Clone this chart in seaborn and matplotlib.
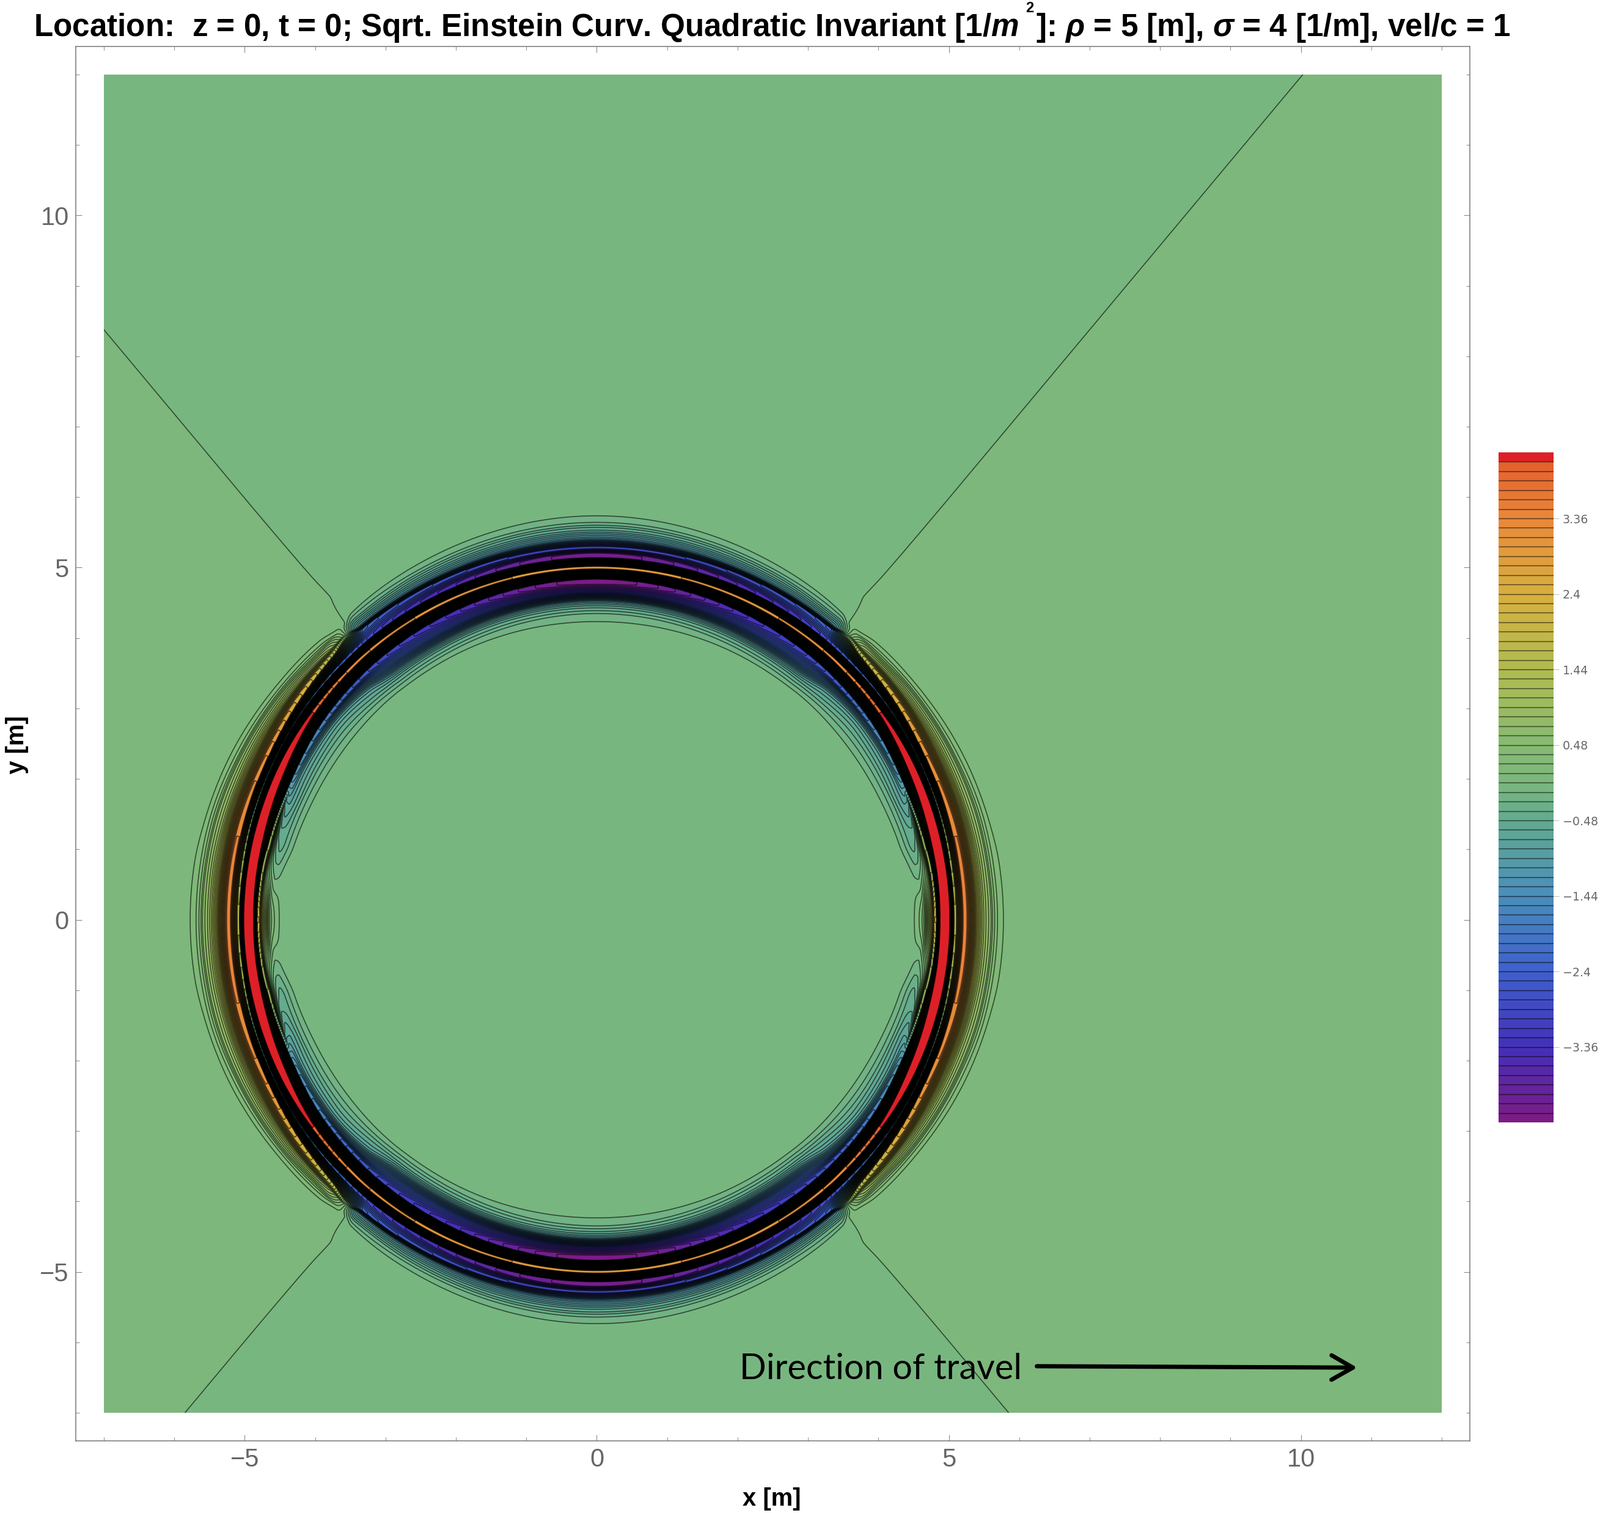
# Sqrt. Einstein curvature invariant around the warp bubble, x-y slice
import numpy as np
import matplotlib
matplotlib.use("Agg")
import matplotlib.pyplot as plt
import seaborn as sns
from matplotlib.colors import ListedColormap, to_rgb
from matplotlib.patches import Rectangle

# ── Values ───────────────────────────────────────────────
# Angle of each knot from the x axis (deg); the field mirrors across both axes
theta_knots = [0, 8, 14, 24, 36, 45, 48.5, 51, 62, 90]

# Radius [m] and value of each feature, going outwards, one entry per angle knot
r_center = [0] * 10
z_center = [-0.03] * 10
r_base = [4.40, 4.35, 4.25, 4.20, 4.15, 4.12, 4.10, 4.08, 4.05, 4.00]
z_base = [-0.03] * 10
r_in1 = [4.51, 4.47, 4.43, 4.37, 4.33, 4.31, 4.30, 4.29, 4.27, 4.24]
z_in1 = [0.0, -0.06, -0.125, -0.125, -0.125, -0.125, -0.125, -0.125, -0.125, -0.125]
r_in2 = [4.58, 4.55, 4.50, 4.45, 4.42, 4.38, 4.36, 4.35, 4.34, 4.35]
z_in2 = [0.125, -0.13, -0.245, -0.245, -0.245, -0.245, -0.245, -0.245, -0.245, -0.245]
r_in3 = [4.62, 4.60, 4.56, 4.51, 4.49, 4.43, 4.41, 4.395, 4.385, 4.39]
z_in3 = [0.245, -0.16, -0.365, -0.365, -0.365, -0.365, -0.365, -0.365, -0.365, -0.365]
r_in4 = [4.65, 4.63, 4.60, 4.55, 4.55, 4.48, 4.45, 4.44, 4.43, 4.43]
z_in4 = [0.4, -0.12, -0.42, -0.485, -0.485, -0.485, -0.485, -0.485, -0.485, -0.485]
r_in5 = [4.70, 4.68, 4.66, 4.67, 4.66, 4.60, 4.55, 4.53, 4.51, 4.52]
z_in5 = [0.9, 0.05, -0.35, -0.8, -0.8, -0.8, -0.85, -0.9, -0.95, -0.95]
r_in6 = [4.76, 4.74, 4.71, 4.715, 4.72, 4.70, 4.68, 4.67, 4.65, 4.66]
z_in6 = [1.5, 0.4, 0.1, -1.0, -1.3, -1.6, -1.9, -2.1, -2.5, -3.2]
r_stripe_in_a = [4.80, 4.79, 4.76, 4.745, 4.77, 4.78, 4.785, 4.785, 4.785, 4.785]
r_stripe_in_b = [4.82, 4.81, 4.78, 4.765, 4.80, 4.81, 4.815, 4.815, 4.82, 4.83]
z_stripe_in = [2.05, 1.2, 1.0, -1.05, -1.78, -2.5, -2.7, -2.85, -3.3, -4.3]
r_stripe_mid_a = [4.90, 4.90, 4.905, 4.93, 4.97, 4.98, 4.985, 4.985, 4.985, 4.985]
r_stripe_mid_b = [4.99, 4.99, 4.99, 4.995, 5.005, 5.01, 5.015, 5.015, 5.015, 5.015]
z_stripe_mid = [4.5, 4.5, 4.5, 4.6, 4.09, 3.35, 3.3, 3.2, 3.1, 2.95]
r_stripe_min_a = [5.08, 5.08, 5.09, 5.10, 5.12, 5.125, 5.13, 5.135, 5.14, 5.145]
r_stripe_min_b = [5.10, 5.10, 5.105, 5.11, 5.13, 5.145, 5.155, 5.16, 5.17, 5.195]
z_stripe_min = [1.6, 1.3, 0.8, -0.8, -1.6, -2.2, -2.5, -2.8, -3.4, -4.15]
r_stripe_out_a = [5.21, 5.21, 5.21, 5.21, 5.25, 5.30, 5.36, 5.28, 5.28, 5.27]
r_stripe_out_b = [5.25, 5.25, 5.25, 5.245, 5.29, 5.33, 5.38, 5.30, 5.30, 5.29]
z_stripe_out = [3.4, 3.4, 3.35, 3.2, 2.5, 1.5, 0.3, -2.2, -2.6, -3.0]
r_out1 = [5.40, 5.40, 5.40, 5.39, 5.40, 5.39, 5.41, 5.36, 5.37, 5.40]
z_out1 = [1.6, 1.6, 1.6, 1.5, 1.2, 0.9, 0.17, -1.0, -1.15, -1.3]
r_mid = [5.50, 5.50, 5.49, 5.47, 5.46, 5.43, 5.44, 5.40, 5.42, 5.47]
z_mid = [0.95, 0.95, 0.95, 0.95, 0.85, 0.75, 0.15, -0.8, -0.85, -0.9]
r_out2 = [5.60, 5.595, 5.59, 5.56, 5.51, 5.46, 5.46, 5.44, 5.47, 5.53]
z_out2 = [0.605, 0.605, 0.605, 0.605, 0.605, 0.605, 0.14, -0.605, -0.605, -0.605]
r_out3 = [5.62, 5.615, 5.61, 5.58, 5.53, 5.48, 5.48, 5.465, 5.50, 5.57]
z_out3 = [0.485, 0.485, 0.485, 0.485, 0.485, 0.485, 0.135, -0.485, -0.485, -0.485]
r_out4 = [5.65, 5.645, 5.64, 5.60, 5.55, 5.50, 5.49, 5.49, 5.53, 5.60]
z_out4 = [0.365, 0.365, 0.365, 0.365, 0.365, 0.365, 0.13, -0.365, -0.365, -0.365]
r_out5 = [5.69, 5.685, 5.68, 5.64, 5.58, 5.53, 5.50, 5.53, 5.57, 5.64]
z_out5 = [0.245, 0.245, 0.245, 0.245, 0.245, 0.245, 0.125, -0.245, -0.245, -0.245]
r_out6 = [5.77, 5.765, 5.74, 5.70, 5.63, 5.58, 5.53, 5.57, 5.64, 5.73]
z_out6 = [0.125, 0.125, 0.125, 0.125, 0.125, 0.125, 0.115, -0.125, -0.125, -0.125]
r_far0 = [5.95] * 10
z_far0 = [0.04] * 7 + [-0.007] * 3
r_far1 = [6.4] * 10
z_far1 = [0.04] * 7 + [-0.0126] * 3
r_far2 = [8.0] * 10
z_far2 = [0.04] * 7 + [-0.017] * 3
r_far3 = [14.0] * 10
z_far3 = [0.04] * 7 + [-0.017] * 3
r_far4 = [24.0] * 10
z_far4 = [0.04] * 7 + [-0.017] * 3

# Colour scale
scale_values = [-4.26, -3.36, -2.4, -1.44, -0.48, -0.06, 0.06, 0.48, 1.44, 2.4, 3.36, 4.02, 4.14]
scale_colors = ["#7A1C86", "#4330B8", "#3E60CC", "#4A8DBB", "#62A98F", "#78B680", "#7DB77B",
                "#85BA72", "#B0BB50", "#D7AF3F", "#E8893A", "#E4622E", "#DD2028"]
cbar_ticks = [3.36, 2.4, 1.44, 0.48, -0.48, -1.44, -2.4, -3.36]
cbar_labels = ["3.36", "2.4", "1.44", "0.48", "\u22120.48", "\u22121.44", "\u22122.4", "\u22123.36"]
axis_ticks = [-5, 0, 5, 10]
axis_labels = ["\u22125", "0", "5", "10"]

radius_cols = [r_center, r_base, r_in1, r_in2, r_in3, r_in4, r_in5, r_in6,
               r_stripe_in_a, r_stripe_in_b, r_stripe_mid_a, r_stripe_mid_b,
               r_stripe_min_a, r_stripe_min_b, r_stripe_out_a, r_stripe_out_b,
               r_out1, r_mid, r_out2, r_out3, r_out4, r_out5, r_out6,
               r_far0, r_far1, r_far2, r_far3, r_far4]
value_cols = [z_center, z_base, z_in1, z_in2, z_in3, z_in4, z_in5, z_in6,
              z_stripe_in, z_stripe_in, z_stripe_mid, z_stripe_mid,
              z_stripe_min, z_stripe_min, z_stripe_out, z_stripe_out,
              z_out1, z_mid, z_out2, z_out3, z_out4, z_out5, z_out6,
              z_far0, z_far1, z_far2, z_far3, z_far4]

# ── Render grid through the knots ────────────────────────
STEP = 0.12
BLACK = "#000000"
GRAY = "#666666"
theta = np.radians(np.linspace(0, 360, 1801))
fold = np.degrees(np.arcsin(np.abs(np.sin(theta))))
kernel = np.ones(5) / 5


def monotone_curve(x, y, xi):
    # shape-preserving cubic, flat at both ends since the field mirrors there
    x = np.asarray(x, float)
    y = np.asarray(y, float)
    h = np.diff(x)
    s = np.diff(y) / h
    d = np.zeros_like(y)
    for i in range(1, len(x) - 1):
        if s[i - 1] * s[i] > 0:
            w1 = 2 * h[i] + h[i - 1]
            w2 = h[i] + 2 * h[i - 1]
            d[i] = (w1 + w2) / (w1 / s[i - 1] + w2 / s[i])
    i = np.clip(np.searchsorted(x, xi, side="right") - 1, 0, len(h) - 1)
    t = (xi - x[i]) / h[i]
    return ((2 * t**3 - 3 * t**2 + 1) * y[i] + (t**3 - 2 * t**2 + t) * h[i] * d[i]
            + (3 * t**2 - 2 * t**3) * y[i + 1] + (t**3 - t**2) * h[i] * d[i + 1])


def spread(cols):
    out = []
    for col in cols:
        row = monotone_curve(theta_knots, col, fold)
        wrapped = np.r_[row[-6:-1], row, row[1:6]]
        out.append(np.convolve(wrapped, kernel, "same")[5:-5])
    out = np.array(out)
    idx = np.linspace(0, len(cols) - 1, (len(cols) - 1) * 12 + 1)
    pos = np.arange(len(cols))
    return np.array([monotone_curve(pos, out[:, i], idx) for i in range(out.shape[1])])


R = spread(radius_cols)
Z = spread(value_cols)
X = R * np.cos(theta)[:, None]
Y = R * np.sin(theta)[:, None]

# ── Bands and contour levels ─────────────────────────────
edges = np.arange(-36, 35) * STEP
fill_levels = np.r_[edges, 99.0]
mids = (np.arange(-36, 35) + 0.5) * STEP
rgb = np.array([to_rgb(c) for c in scale_colors])
band_colors = np.column_stack([np.interp(mids, scale_values, rgb[:, i]) for i in range(3)])

# ── Figure ───────────────────────────────────────────────
sns.set_theme(style="ticks")
plt.rcParams["font.family"] = ["Liberation Sans", "DejaVu Sans"]
plt.rcParams["mathtext.fontset"] = "custom"
plt.rcParams["mathtext.rm"] = "Liberation Sans:bold"
plt.rcParams["mathtext.it"] = "Liberation Sans:italic:bold"
plt.rcParams["mathtext.bf"] = "Liberation Sans:bold"

fig = plt.figure(figsize=(26.18, 24.75), dpi=100)
ax = fig.add_axes([124 / 2618, 1 - 2357 / 2475, 2281 / 2618, 2281 / 2475])

clip = Rectangle((-7, -7), 19, 19, transform=ax.transData)
filled = ax.contourf(X, Y, Z, levels=fill_levels, colors=[tuple(c) for c in band_colors])
filled.set_clip_path(clip)
lines = ax.contour(X, Y, Z, levels=edges, colors=BLACK, linewidths=1.15, alpha=0.62,
                   linestyles="solid")
lines.set_clip_path(clip)

ax.set_xlim(-7.4, 12.4)
ax.set_ylim(-7.4, 12.4)
ax.set_xticks(axis_ticks, axis_labels)
ax.set_yticks(axis_ticks, axis_labels)
ax.set_xticks(np.arange(-7, 13), minor=True)
ax.set_yticks(np.arange(-7, 13), minor=True)
ax.tick_params(which="major", direction="in", length=7, width=0.8, color="#888888",
               labelcolor=GRAY, labelsize=30, top=True, right=True, pad=8)
ax.tick_params(which="minor", direction="in", length=4, width=0.7, color="#888888",
               top=True, right=True)
for spine in ax.spines.values():
    spine.set_color("#777777")
    spine.set_linewidth(1.1)

fig.text(1263 / 2618, 1 - 2452 / 2475, "x [m]", fontsize=28.8, fontweight="bold",
         color=BLACK, ha="center", va="center")
fig.text(28 / 2618, 1 - 1218 / 2475, "y [m]", fontsize=28.8, fontweight="bold",
         color=BLACK, ha="center", va="center", rotation=90)

title = (r"Location:  z = 0, t = 0; Sqrt. Einstein Curv. Quadratic Invariant [1/$m$  ]: "
         r"$\rho$ = 5 [m], $\sigma$ = 4 [1/m], vel/c = 1")
fig.text(1263 / 2618, 1 - 46 / 2475, title, fontsize=36.9, fontweight="bold",
         color=BLACK, ha="center", va="center")
fig.text(1685 / 2618, 1 - 13 / 2475, "2", fontsize=17, fontweight="bold",
         color=BLACK, ha="center", va="center")

ax.text(2.03, -6.38, "Direction of travel", fontsize=41.5, family="Lato", color=BLACK,
        ha="left", va="center")
ax.annotate("", xy=(10.8, -6.36), xytext=(6.25, -6.34),
            arrowprops=dict(arrowstyle="->,head_length=0.7,head_width=0.4", lw=5,
                            color=BLACK, shrinkA=0, shrinkB=0, mutation_scale=36))

# Colour bar legend
cax = fig.add_axes([2452 / 2618, 1 - 1836 / 2475, 90 / 2618, 1096 / 2475])
sns.heatmap(np.arange(len(mids) - 1, -1, -1).reshape(-1, 1),
            cmap=ListedColormap(band_colors), cbar=False,
            xticklabels=False, yticklabels=False, ax=cax)
cax.hlines(np.arange(1, len(mids)), 0, 1, colors=BLACK, linewidths=1.05, alpha=0.6)
cax.yaxis.tick_right()
cax.set_yticks([(4.2 - v) / STEP for v in cbar_ticks], cbar_labels)
cax.tick_params(axis="y", length=6.5, width=0.7, color="#BBBBBB", labelcolor=GRAY, pad=4,
                labelsize=13.7, labelfontfamily="DejaVu Sans", left=False, right=True)
cax.tick_params(axis="x", length=0)

fig.savefig("out.png", dpi=100, facecolor="white")
